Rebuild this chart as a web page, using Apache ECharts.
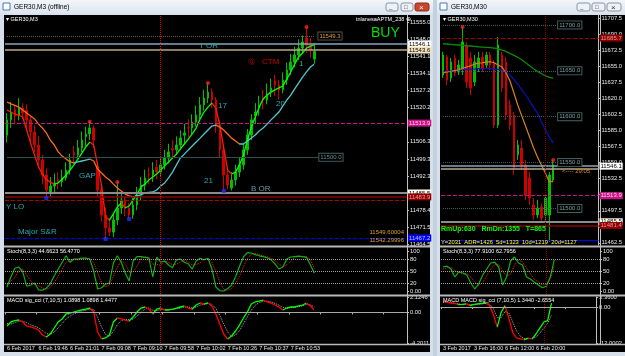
<!DOCTYPE html>
<html><head><meta charset="utf-8">
<script src="https://cdn.jsdelivr.net/npm/echarts@6/dist/echarts.min.js"></script>
<style>html,body{margin:0;padding:0;background:#d6dfea;}#c{width:625px;height:356px;}</style>
</head><body><div id="c"></div>
<script>
// ---------------- DATA ----------------
// Left chart GER30,M3
const leftOpen  = [11509.0,11515.2,11519.5,11516.8,11520.0,11519.0,11515.2,11510.3,11505.0,11498.9,11492.8,11485.5,11488.3,11491.0,11490.0,11491.6,11494.8,11502.0,11500.9,11503.8,11508.5,11509.5,11511.9,11496.0,11486.7,11476.5,11471.3,11469.6,11474.5,11479.4,11482.6,11479.4,11476.5,11480.6,11484.7,11488.7,11493.0,11492.8,11496.0,11494.0,11496.9,11499.7,11503.5,11503.0,11505.0,11509.0,11512.0,11511.9,11514.3,11517.2,11521.3,11524.1,11526.5,11523.3,11513.1,11503.0,11492.8,11487.5,11490.8,11494.0,11496.9,11503.0,11509.1,11517.0,11520.0,11524.0,11523.3,11527.0,11531.0,11529.4,11527.4,11531.4,11535.5,11538.7,11541.6,11544.4,11548.5,11545.6,11540.0];
const leftClose = [11515.2,11518.4,11516.8,11520.0,11518.0,11515.2,11510.3,11505.0,11498.9,11492.8,11486.7,11488.3,11489.1,11490.0,11491.6,11494.8,11498.9,11500.9,11503.8,11507.0,11509.5,11511.9,11507.0,11486.7,11476.5,11471.3,11469.6,11474.5,11479.4,11482.6,11479.4,11476.5,11480.6,11484.7,11488.7,11491.6,11492.8,11494.8,11494.0,11496.9,11499.7,11502.2,11503.0,11505.0,11507.8,11509.9,11511.9,11514.3,11517.2,11521.3,11524.1,11526.5,11523.3,11513.1,11503.0,11492.8,11488.7,11490.8,11494.0,11496.9,11503.0,11509.1,11515.2,11518.4,11521.3,11523.3,11525.3,11528.2,11529.4,11527.4,11531.4,11535.5,11538.7,11541.6,11544.4,11546.9,11545.6,11543.6,11543.0];
const leftHigh  = [11518.0,11522.5,11521.0,11524.0,11522.0,11521.5,11517.0,11513.0,11508.5,11501.0,11495.5,11492.0,11493.5,11494.0,11495.0,11498.0,11501.5,11504.5,11507.0,11510.5,11512.5,11514.5,11513.0,11498.0,11489.0,11479.5,11475.0,11477.0,11490.0,11485.5,11484.0,11481.5,11483.5,11488.0,11492.0,11495.0,11496.0,11498.0,11499.0,11500.5,11503.0,11505.5,11507.0,11508.5,11511.0,11513.5,11515.5,11517.5,11521.0,11524.5,11527.5,11530.2,11528.0,11524.5,11515.0,11505.0,11495.0,11494.0,11497.0,11500.0,11505.5,11511.5,11517.5,11522.0,11525.0,11527.5,11530.0,11532.0,11533.5,11531.5,11534.5,11538.5,11542.0,11545.0,11548.0,11549.5,11553.0,11548.5,11546.5];
const leftLow   = [11506.0,11512.0,11513.5,11515.0,11515.5,11512.0,11506.0,11502.0,11496.0,11489.0,11483.5,11484.0,11485.5,11487.0,11488.0,11490.5,11493.0,11497.0,11499.5,11502.0,11504.5,11507.0,11504.0,11484.0,11474.0,11466.8,11468.0,11467.5,11472.5,11477.0,11476.0,11474.9,11475.0,11478.5,11482.5,11486.5,11489.0,11490.0,11491.0,11492.0,11495.0,11497.5,11500.0,11501.0,11503.0,11505.5,11508.0,11509.5,11512.5,11515.5,11519.0,11522.0,11520.0,11510.0,11500.0,11486.3,11487.0,11486.5,11488.5,11492.0,11495.0,11501.0,11507.0,11513.5,11517.0,11519.5,11521.5,11524.5,11525.0,11523.5,11526.0,11529.5,11533.5,11536.5,11539.5,11542.0,11542.5,11540.5,11538.0];
const leftFastMA = [11519.2,11518.4,11517.6,11517.2,11516.4,11511.1,11505.8,11500.9,11496.1,11493.2,11490.8,11490.0,11489.1,11489.6,11491.2,11492.8,11494.8,11496.9,11499.3,11501.7,11504.2,11506.2,11505.0,11496.9,11488.7,11475.7,11474.5,11477.0,11479.8,11481.4,11479.4,11480.2,11482.6,11485.1,11487.9,11489.1,11490.8,11492.0,11493.2,11494.8,11496.5,11498.1,11499.7,11501.3,11503.4,11505.4,11507.4,11509.5,11511.9,11515.6,11518.4,11520.4,11522.1,11520.0,11513.1,11503.8,11494.8,11493.2,11494.0,11496.9,11500.9,11507.0,11512.3,11516.4,11520.4,11523.7,11525.3,11526.5,11527.4,11528.2,11529.0,11531.8,11534.7,11537.9,11540.8,11542.4,11544.4,11545.2,11545.7];
const leftSlowMA = [11522.5,11521.7,11521.1,11520.4,11519.2,11518.0,11516.8,11515.6,11513.5,11511.9,11509.9,11507.0,11505.0,11502.2,11500.5,11499.3,11498.1,11497.7,11498.1,11498.5,11498.9,11499.3,11498.5,11495.2,11493.6,11492.0,11490.8,11489.1,11487.5,11486.3,11485.1,11484.3,11483.9,11484.3,11484.7,11485.5,11485.7,11485.9,11486.7,11488.3,11489.6,11491.6,11494.0,11496.9,11499.7,11501.3,11503.0,11504.6,11506.2,11507.8,11509.5,11511.1,11512.7,11513.1,11512.3,11511.1,11509.5,11507.8,11506.6,11505.4,11505.4,11506.6,11507.8,11509.1,11510.7,11511.9,11513.5,11515.2,11516.8,11518.4,11520.9,11523.3,11525.3,11527.8,11530.2,11532.6,11534.7,11536.7,11537.9];
const leftSwingHighIdx = [21,28,51,76];
const leftSwingLowIdx = [10,25,31,55];
const leftStochMain = [10,35,57,60,48,12,15,20,3,2,7,18,38,55,72,88,72,80,80,82,82,80,50,5,8,17,20,70,88,72,45,25,75,86,86,84,82,35,85,72,75,65,58,78,80,72,68,55,75,82,78,82,55,10,1,0,6,15,35,62,85,96,95,91,88,86,83,78,68,55,60,80,85,86,87,86,84,65,44.7];
const leftStochSignal = [15,25,34,51,55,40,25,16,13,8,4,9,21,37,55,72,77,80,77,81,81,81,71,45,21,10,15,36,59,77,68,47,48,62,82,85,84,67,67,64,77,71,66,67,72,77,73,65,66,71,78,81,72,49,22,4,2,7,19,37,61,81,92,94,91,88,86,82,76,67,61,65,75,84,86,86,86,78,56.5];
const leftMacdMain = [-1.86,-1.31,-1.11,-1.04,-1.31,-1.86,-2.0,-2.14,-2.41,-3.10,-3.38,-2.96,-2.14,-1.31,-0.90,-0.21,-0.08,0.06,0.20,0.34,0.47,0.61,0.06,-2.69,-3.65,-3.51,-3.10,-1.31,-0.76,-0.90,-1.04,-1.18,-0.63,0.06,0.61,0.75,0.47,-0.21,0.47,0.61,0.34,0.34,0.47,0.61,0.75,0.89,0.61,0.47,1.02,1.30,1.16,1.30,0.89,-0.21,-1.59,-2.96,-3.65,-3.24,-2.55,-1.73,-0.76,0.06,1.16,1.44,1.57,1.71,1.44,1.30,1.02,0.75,0.34,0.61,0.75,0.75,0.89,1.02,1.30,0.89,0.34];
const leftMacdSignal = [-1.5,-1.6,-1.4,-1.2,-1.2,-1.4,-1.7,-1.9,-2.1,-2.5,-2.9,-3.0,-2.7,-2.1,-1.5,-0.9,-0.5,-0.2,0.0,0.2,0.3,0.45,0.4,-0.7,-2.0,-3.0,-3.3,-2.6,-1.7,-1.1,-0.95,-1.0,-0.9,-0.5,0.0,0.45,0.6,0.3,0.25,0.4,0.45,0.4,0.4,0.5,0.6,0.75,0.75,0.6,0.75,1.0,1.15,1.25,1.1,0.55,-0.4,-1.6,-2.7,-3.3,-3.1,-2.5,-1.6,-0.6,0.3,1.0,1.35,1.55,1.55,1.45,1.25,1.0,0.7,0.6,0.65,0.7,0.8,0.9,1.1,1.05,0.75];
const leftTimeLabels = ['6 Feb 2017','6 Feb 19:46','6 Feb 21:01','7 Feb 09:08','7 Feb 09:10','7 Feb 09:58','7 Feb 10:02','7 Feb 10:26','7 Feb 10:37','7 Feb 10:53'];
const leftPriceTicks = [11555.0,11548.0,11541.1,11534.1,11527.2,11520.2,11513.2,11506.3,11499.3,11492.3,11485.4,11478.4,11471.5,11464.5];
const leftMacdTicks = [2.1246,0,-4.2011];

// Right chart GER30,M30
const rightOpen  = [11645.4,11665.0,11642.1,11663.9,11648.7,11653.0,11678.1,11663.9,11637.8,11653.0,11665.0,11656.3,11667.2,11658.5,11590.9,11667.2,11659.6,11612.7,11601.8,11558.3,11565.9,11547.4,11533.2,11503.8,11492.9,11501.6,11492.9,11492.9,11531.0];
const rightClose = [11667.2,11640.0,11659.6,11647.6,11656.3,11681.4,11637.8,11631.3,11659.6,11663.9,11653.0,11667.2,11656.3,11590.9,11678.1,11631.3,11601.8,11590.9,11544.1,11569.2,11547.4,11514.7,11511.4,11492.9,11500.5,11489.6,11511.4,11536.5,11547.4];
const rightHigh  = [11670.5,11667.2,11663.9,11667.2,11661.7,11697.7,11681.4,11670.5,11667.2,11670.5,11670.5,11670.5,11670.5,11661.7,11686.8,11670.5,11665.0,11618.2,11605.1,11574.6,11574.6,11552.8,11539.7,11511.4,11509.3,11505.4,11514.7,11539.7,11552.8];
const rightLow   = [11642.1,11634.5,11637.8,11644.3,11645.4,11645.4,11631.3,11623.6,11633.4,11648.7,11648.7,11653.0,11650.8,11587.7,11587.7,11626.9,11596.4,11585.5,11536.5,11552.8,11541.9,11509.3,11503.8,11487.5,11489.6,11485.3,11487.5,11463.5,11528.9];
const rightGreenMA  = [11679.5,11679.2,11678.9,11678.4,11678.1,11677.8,11677.3,11677.0,11676.7,11676.2,11675.9,11675.6,11675.2,11674.8,11674.1,11672.6,11671.2,11669.0,11666.9,11664.7,11662.1,11658.8,11655.5,11652.3,11649.4,11646.8,11644.6,11643.2,11641.8];
const rightBlueMA   = [11649.0,11649.8,11650.1,11650.5,11651.0,11651.2,11651.6,11651.7,11651.9,11652.3,11652.5,11652.7,11652.3,11651.9,11651.6,11651.2,11649.0,11645.4,11640.7,11635.3,11629.8,11623.6,11617.1,11610.5,11603.7,11594.5,11585.8,11578.2,11571.0];
const rightOrangeMA = [11647.6,11648.7,11649.4,11650.1,11651.2,11652.7,11654.1,11655.5,11657.1,11658.3,11658.8,11659.4,11659.9,11658.8,11656.3,11654.1,11647.9,11639.2,11626.1,11612.7,11601.1,11589.5,11577.9,11566.2,11556.1,11547.4,11538.7,11529.2,11529.2];
const rightSwingHighIdx = [5,28];
const rightStochMain   = [60,62,55,35,48,45,40,20,5,18,40,55,70,72,60,15,35,75,85,70,65,35,30,22,15,8,12,35,77.9];
const rightStochSignal = [55,58,59,51,46,43,44,35,22,14,21,38,55,66,67,49,37,42,65,77,73,57,43,29,22,15,16,30,62.8];
const rightMacdMain   = [2.0,1.6,1.3,1.2,0.8,0.9,1.1,0.5,0.9,1.1,1.2,1.3,0.6,-2.5,-6.7,-1.8,0.5,-3.8,-8.5,-10.4,-10.6,-10.9,-10.4,-10.6,-9.0,-7.0,-5.0,-4.5,1.344];
const rightMacdSignal = [1.5,1.7,1.5,1.3,1.1,0.9,1.0,0.8,0.8,0.9,1.0,1.2,1.0,-0.5,-3.5,-3.5,-1.5,-2.0,-5.0,-8.0,-9.8,-10.5,-10.6,-10.5,-10.0,-8.8,-7.0,-5.5,-2.655];
const rightTimeLabels = ['3 Feb 2017','3 Feb 16:00','6 Feb 12:00','6 Feb 20:00'];
const rightPriceTicks = [11707.5,11690.0,11672.5,11655.0,11637.5,11620.0,11602.5,11585.0,11567.5,11550.0,11532.5,11515.0,11497.5,11480.0,11462.5];
const rightMacdTicks = [3.36,0,-12.0002];
const rightRoundLevels = [11700.0,11650.0,11600.0,11550.0,11500.0];

// Shared levels
const levelTOR = [11546.1];
const levelBeige = [11543.6];
const levelMagenta = [11513.9];
const levelBOR = [11485.5];
const levelRedSolid = [11483.9];
const levelYLO = [11482.6];
const levelMajorSR = [11467.2];
const levelRightRed = [11685.7];
const leftTargets = [11549.3, 11542.3];
const leftRound = [11500.0];
const stochLevels = [20,50,80];
const stochTicks = [0,20,50,80,100];

// ---------------- CHART ----------------
const FONT = 'Liberation Sans';
const chart = echarts.init(document.getElementById('c'), null, {width:625, height:356});
const leftCats = Array.from({length:102}, (_, i) => String(i));
const rightCats = Array.from({length:40}, (_, i) => String(i));
const leftOHLC = leftOpen.map((o, i) => [o, leftClose[i], leftLow[i], leftHigh[i]]);
const rightOHLC = rightOpen.map((o, i) => [o, rightClose[i], rightLow[i], rightHigh[i]]);

function slopePieces(data, up, down) {
  const pieces = [];
  for (let i = 0; i < data.length - 1; i++) {
    const c = data[i + 1] >= data[i] ? up : down;
    const last = pieces[pieces.length - 1];
    if (last && last.color === c) last.lt = i + 1;
    else pieces.push({gte: i, lt: i + 1, color: c});
  }
  const last = pieces[pieces.length - 1];
  last.lte = last.lt; delete last.lt;
  return pieces;
}

function box(text, bg, fg, border) {
  return {show: true, position: 'end', formatter: text, backgroundColor: bg, color: fg,
    fontSize: 6, fontFamily: FONT, padding: [1, 1, 0, 1], distance: 1,
    borderColor: border || bg, borderWidth: border ? 1 : 0};
}
const noLabel = {show: false};
function hline(v, color, width, type, label) {
  return {yAxis: v, lineStyle: {color, width, type}, label: label || noLabel};
}
function seg(x0, x1, v, color, type, label, opacity) {
  const ls = {color, width: 1, type, opacity: opacity == null ? 1 : opacity};
  const lb = label || noLabel;
  return [{coord: [x0, v], value: v, lineStyle: ls, label: lb}, {coord: [x1, v], value: v, lineStyle: ls, label: lb}];
}

function xAxisDef(gi, cats, labels) {
  return {type: 'category', gridIndex: gi, data: cats, boundaryGap: true,
    axisLine: {show: !!labels, lineStyle: {color: '#b0b0b0'}},
    axisTick: {show: !!labels, interval: 7, length: 2, lineStyle: {color: '#b0b0b0'}},
    axisLabel: labels ? {show: true, interval: 7, color: '#e8e8e8', fontSize: 5.5, fontFamily: FONT, margin: 2, align: 'left',
      formatter: (v, idx) => labels[idx / 8] || ''} : {show: false},
    splitLine: {show: false}};
}
function yAxisDef(gi, min, max, ticks, fmt) {
  return {type: 'value', gridIndex: gi, position: 'right', min, max, scale: true,
    axisLine: {show: true, lineStyle: {color: '#c0c0c0'}},
    axisTick: {show: true, length: 2, customValues: ticks, lineStyle: {color: '#c0c0c0'}},
    axisLabel: {show: true, customValues: ticks, color: '#e8e8e8', fontSize: 5.8, fontFamily: FONT, margin: 3, formatter: fmt},
    splitLine: {show: false}};
}
const f1 = v => v.toFixed(1);
const fStoch = v => v === 0 ? '0.00' : String(v);
const fMacd = v => v === 0 ? '0.00' : v.toFixed(4);

const candleStyle = {color: '#00c000', color0: '#d00000', borderColor: '#00c000', borderColor0: '#d00000', borderWidth: 1};

function T(x, y, text, fill, size, extra) {
  return {type: 'text', x, y, z: 100, silent: true,
    style: Object.assign({text, fill, fontSize: size || 6, fontFamily: FONT, align: 'left', textAlign: 'left',
      verticalAlign: 'middle', textVerticalAlign: 'middle'}, extra || {})};
}
function R(x, y, w, h, fill, stroke, z, r) {
  return {type: 'rect', z: z == null ? -10 : z, silent: true, shape: {x, y, width: w, height: h, r: r || 0},
    style: {fill, stroke: stroke || null, lineWidth: stroke ? 1 : 0}};
}
function L(x1, y1, x2, y2, stroke, w, dash, z) {
  return {type: 'line', z: z == null ? -5 : z, silent: true, shape: {x1, y1, x2, y2},
    style: {stroke, lineWidth: w || 1, lineDash: dash || null}};
}
const titleGrad = {type: 'linear', x: 0, y: 0, x2: 0, y2: 1, colorStops: [{offset: 0, color: '#f3f6fa'}, {offset: 1, color: '#dbe4ee'}]};

const graphics = [
  // window frames / title bars
  R(0, 0, 433, 14, titleGrad),
  R(437, 0, 188, 14, titleGrad),
  R(433, 0, 4, 356, '#c3d0df'),
  R(3, 3, 7, 7, '#ffffff', '#4a78b0', -9),
  R(440, 3, 7, 7, '#ffffff', '#4a78b0', -9),
  T(14, 7.5, 'GER30,M3 (offline)', '#000000', 6.5),
  T(451, 7.5, 'GER30,M30', '#000000', 6.5),
  R(386, 3, 12, 8, '#eef2f7', '#8696aa', -9, 2),
  R(401, 3, 12, 8, '#eef2f7', '#8696aa', -9, 2),
  R(415, 3, 14, 8, '#c9462c', '#8a2a18', -9, 2),
  R(577, 3, 13, 8, '#eef2f7', '#8696aa', -9, 2),
  R(592, 3, 13, 8, '#eef2f7', '#8696aa', -9, 2),
  R(607, 3, 14, 8, '#eef2f7', '#8696aa', -9, 2),
  T(389, 7.5, '_', '#333', 6), T(404, 7.5, '\u25A1', '#333', 6), T(419, 7.5, '\u00D7', '#ffffff', 8),
  T(580, 7.5, '_', '#333', 6), T(595, 7.5, '\u25A1', '#333', 6), T(611, 7.5, '\u00D7', '#333', 8),
  // black chart areas
  R(4, 15, 426, 337, '#000000'),
  R(440, 15, 185, 337, '#000000'),
  // panel separators
  L(4, 246.5, 430, 246.5, '#b8b8b8', 2, null, 5),
  L(4, 295.5, 430, 295.5, '#b8b8b8', 2, null, 5),
  L(4, 344.5, 430, 344.5, '#b8b8b8', 1.5, null, 5),
  L(440, 246.5, 625, 246.5, '#b8b8b8', 2, null, 5),
  L(440, 295.5, 625, 295.5, '#b8b8b8', 2, null, 5),
  L(440, 344.5, 625, 344.5, '#b8b8b8', 1.5, null, 5),
  L(407.5, 15, 407.5, 345, '#c0c0c0', 1, null, 5),
  L(600.5, 15, 600.5, 345, '#c0c0c0', 1, null, 5),
  // in-chart labels
  T(6, 19, '\u25BE GER30,M3', '#ffffff', 5.5),
  T(443, 19, '\u25BE GER30,M30', '#ffffff', 5.5),
  T(356, 19, 'tnlanesaAPTM_238 \u2295', '#ffffff', 5.5),
  T(371, 33, 'BUY', '#00e000', 14),
  T(199, 46, 'T OR', '#2aa6b0', 8),
  T(248, 62, '\u24C6', '#d00000', 7),
  T(262, 62, 'CTM', '#d00000', 8),
  T(299, 64, '1', '#2aa6b0', 8),
  T(218, 106, '17', '#2aa6b0', 8),
  T(276, 104, '20', '#2aa6b0', 8),
  T(79, 176, 'GAP', '#2aa6b0', 8),
  T(204, 181, '21', '#2aa6b0', 8),
  T(251, 189, 'B OR', '#6a9aa8', 8),
  T(6, 207, 'Y LO', '#2aa6b0', 8),
  T(18, 232, 'Major S&R', '#2aa6b0', 8),
  T(404, 232, '11549.60004', '#d8a030', 6, {align: 'right', textAlign: 'right'}),
  T(404, 240, '11542.29996', '#d8a030', 6, {align: 'right', textAlign: 'right'}),
  T(7, 251.5, 'Stoch(8,3,3) 44.6623 56.4770', '#ffffff', 5.5),
  T(7, 300.5, 'MACD sig_cci (7,10,5) 1.0898 1.0898 1.4477', '#ffffff', 5.5),
  T(443, 251.5, 'Stoch(8,3,3) 77.9100 62.7956', '#ffffff', 5.5),
  T(443, 300.5, 'MACD MACD sig_cci (7,10,5) 1.3440 -2.6554', '#ffffff', 5.5),
  T(562, 171, '<---- 29:05', '#e08a20', 6),
  T(441, 229, 'RmUp:630   RmDn:1355   T=865', '#00ff00', 7, {fontWeight: 'bold'}),
  T(441, 242, 'Y=2031  ADR=1426  5d=1323  10d=1219  20d=1127', '#ffff00', 5.8)
];

const leftLevelLines = [
  hline(levelTOR[0], '#8aa4bd', 1.5, 'solid', box(levelTOR[0].toFixed(1), '#ffffff', '#000000')),
  hline(levelBeige[0], '#b8a888', 1.5, 'solid', box(levelBeige[0].toFixed(1), '#f5e2bd', '#000000')),
  hline(levelMagenta[0], '#c71585', 1, 'dashed', box(levelMagenta[0].toFixed(1), '#c71585', '#ffd0f0')),
  hline(levelBOR[0], '#8c8c8c', 2, 'solid', box(levelBOR[0].toFixed(1), '#fffaf0', '#000000')),
  hline(levelRedSolid[0], '#8b0000', 1.5, 'solid', box(levelRedSolid[0].toFixed(1), '#8b0000', '#ff9090')),
  hline(levelYLO[0], '#b00000', 1, 'dashed'),
  hline(levelMajorSR[0], '#0000ff', 1, 'dashed', box(levelMajorSR[0].toFixed(1), '#0000ff', '#c0c0ff')),
  seg(0, 78, leftTargets[0], '#606060', 'dotted', Object.assign(box(leftTargets[0].toFixed(1), '#000000', '#e0a040', '#505050'), {distance: 4})),
  seg(77, 78, leftTargets[1], '#000000', 'solid', {show: true, position: 'end', formatter: leftTargets[1].toFixed(1), color: '#e0a040', fontSize: 6, fontFamily: FONT, distance: 5}, 0),
  seg(0, 79, leftRound[0], '#2f4f4f', 'solid', box(leftRound[0].toFixed(1), '#000000', '#6f8f8f', '#3f5f5f'))
];
const rightLevelLines = [
  hline(levelRightRed[0], '#a00000', 1, 'dashed', box(levelRightRed[0].toFixed(1), '#8b0000', '#ff9090')),
  hline(levelTOR[0], '#8aa4bd', 1.5, 'solid', box(levelTOR[0].toFixed(1), '#ffffff', '#000000')),
  hline(levelBeige[0], '#b8a888', 1.5, 'solid'),
  hline(levelMagenta[0], '#c71585', 1, 'dashed', box(levelMagenta[0].toFixed(1), '#c71585', '#ffd0f0')),
  hline(levelBOR[0], '#8c8c8c', 2, 'solid', box(levelBOR[0].toFixed(1), '#fffaf0', '#000000')),
  hline(levelRedSolid[0] - 2.5, '#8b0000', 1.5, 'solid', box((levelRedSolid[0] - 2.5).toFixed(1), '#8b0000', '#ff9090')),
  hline(levelMajorSR[0] - 1.5, '#0000ff', 1, 'solid')
].concat(rightRoundLevels.map(v => seg(0, 29, v, '#3f5f5f', 'dotted', box(v.toFixed(1), '#000000', '#7f9f9f', '#3f5f5f'))));

const option = {
  animation: false,
  backgroundColor: '#d6dfea',
  textStyle: {fontFamily: FONT},
  grid: [
    {left: 5, top: 15, width: 402, height: 230},
    {left: 5, top: 248, width: 402, height: 46},
    {left: 5, top: 297, width: 402, height: 46},
    {left: 441, top: 15, width: 159, height: 230},
    {left: 441, top: 248, width: 159, height: 46},
    {left: 441, top: 297, width: 159, height: 46}
  ],
  xAxis: [
    xAxisDef(0, leftCats), xAxisDef(1, leftCats), xAxisDef(2, leftCats, leftTimeLabels),
    xAxisDef(3, rightCats), xAxisDef(4, rightCats), xAxisDef(5, rightCats, rightTimeLabels)
  ],
  yAxis: [
    yAxisDef(0, 11464.35, 11557.85, leftPriceTicks, f1),
    yAxisDef(1, -7.5, 107.5, stochTicks, fStoch),
    yAxisDef(2, -4.2011, 2.1246, leftMacdTicks, fMacd),
    yAxisDef(3, 11460.2, 11710.8, rightPriceTicks, f1),
    yAxisDef(4, -7.5, 107.5, stochTicks, fStoch),
    yAxisDef(5, -12.0002, 3.36, rightMacdTicks, fMacd)
  ],
  visualMap: [
    {type: 'piecewise', show: false, seriesIndex: 1, dimension: 0, pieces: slopePieces(leftFastMA, '#00ff00', '#ff1a00')},
    {type: 'piecewise', show: false, seriesIndex: 2, dimension: 0, pieces: slopePieces(leftSlowMA, '#4cc8d0', '#ff6a10')},
    {type: 'piecewise', show: false, seriesIndex: 7, dimension: 0, pieces: slopePieces(leftMacdMain, '#00ff00', '#ff0000')},
    {type: 'piecewise', show: false, seriesIndex: 16, dimension: 0, pieces: slopePieces(rightMacdMain, '#00ff00', '#ff0000')}
  ],
  graphic: {elements: graphics},
  series: [
    {type: 'candlestick', xAxisIndex: 0, yAxisIndex: 0, data: leftOHLC, barWidth: 2, itemStyle: candleStyle, z: 3,
      markLine: {silent: true, symbol: ['none', 'none'], animation: false, data: leftLevelLines.concat([{xAxis: 39, lineStyle: {color: '#ff0000', type: 'dotted', width: 1}, label: noLabel}])}},
    {type: 'line', xAxisIndex: 0, yAxisIndex: 0, data: leftFastMA, showSymbol: false, lineStyle: {width: 1.3}, z: 4},
    {type: 'line', xAxisIndex: 0, yAxisIndex: 0, data: leftSlowMA, showSymbol: false, lineStyle: {width: 1.3}, z: 4},
    {type: 'scatter', xAxisIndex: 0, yAxisIndex: 0, symbolSize: 4, itemStyle: {color: '#ff2020'}, z: 5,
      data: leftSwingHighIdx.map(i => [i, leftHigh[i]])},
    {type: 'scatter', xAxisIndex: 0, yAxisIndex: 0, symbolSize: 4, symbol: 'rect', itemStyle: {color: '#2030ff'}, z: 5,
      data: leftSwingLowIdx.map(i => [i, leftLow[i]])},
    {type: 'line', xAxisIndex: 1, yAxisIndex: 1, data: leftStochMain, showSymbol: false, lineStyle: {color: '#10b010', width: 1.2}, z: 4,
      markLine: {silent: true, symbol: ['none', 'none'], animation: false, label: {show: false},
        data: stochLevels.map(v => ({yAxis: v, lineStyle: {color: '#a0a0a0', type: 'dotted', width: 1}})).concat([{xAxis: 39, lineStyle: {color: '#ff0000', type: 'dotted', width: 1}}])}},
    {type: 'line', xAxisIndex: 1, yAxisIndex: 1, data: leftStochSignal, showSymbol: false, lineStyle: {color: '#ff2020', width: 1, type: 'dotted'}, z: 3},
    {type: 'line', xAxisIndex: 2, yAxisIndex: 2, data: leftMacdMain, showSymbol: false, lineStyle: {width: 1.3}, z: 4,
      markLine: {silent: true, symbol: ['none', 'none'], animation: false, label: {show: false},
        data: [{yAxis: 0, lineStyle: {color: '#a8a8a8', type: 'solid', width: 1}}, {xAxis: 39, lineStyle: {color: '#ff0000', type: 'dotted', width: 1}}]}},
    {type: 'line', xAxisIndex: 2, yAxisIndex: 2, data: leftMacdSignal, showSymbol: false, lineStyle: {color: '#b0b0b0', width: 1, type: 'dotted'}, z: 3},
    {type: 'candlestick', xAxisIndex: 3, yAxisIndex: 3, data: rightOHLC, barWidth: 2, itemStyle: candleStyle, z: 3,
      markLine: {silent: true, symbol: ['none', 'none'], animation: false, data: rightLevelLines.concat([{xAxis: 26, lineStyle: {color: '#900000', type: 'dotted', width: 1}, label: noLabel}])}},
    {type: 'line', xAxisIndex: 3, yAxisIndex: 3, data: rightGreenMA, showSymbol: false, lineStyle: {color: '#0a8a0a', width: 1.3}, z: 4},
    {type: 'line', xAxisIndex: 3, yAxisIndex: 3, data: rightBlueMA, showSymbol: false, lineStyle: {color: '#1010c0', width: 1.2}, z: 4},
    {type: 'line', xAxisIndex: 3, yAxisIndex: 3, data: rightOrangeMA, showSymbol: false, lineStyle: {color: '#d8801e', width: 1.2}, z: 4},
    {type: 'scatter', xAxisIndex: 3, yAxisIndex: 3, symbolSize: 4, itemStyle: {color: '#ff2020'}, z: 5,
      data: rightSwingHighIdx.map(i => [i, rightHigh[i]])},
    {type: 'line', xAxisIndex: 4, yAxisIndex: 4, data: rightStochMain, showSymbol: false, lineStyle: {color: '#10b010', width: 1.2}, z: 4,
      markLine: {silent: true, symbol: ['none', 'none'], animation: false, label: {show: false},
        data: stochLevels.map(v => ({yAxis: v, lineStyle: {color: '#a0a0a0', type: 'dotted', width: 1}})).concat([{xAxis: 26, lineStyle: {color: '#900000', type: 'dotted', width: 1}}])}},
    {type: 'line', xAxisIndex: 4, yAxisIndex: 4, data: rightStochSignal, showSymbol: false, lineStyle: {color: '#ff2020', width: 1, type: 'dotted'}, z: 3},
    {type: 'line', xAxisIndex: 5, yAxisIndex: 5, data: rightMacdMain, showSymbol: false, lineStyle: {width: 1.3}, z: 4,
      markLine: {silent: true, symbol: ['none', 'none'], animation: false, label: {show: false},
        data: [{yAxis: 0, lineStyle: {color: '#a8a8a8', type: 'solid', width: 1}}, {xAxis: 26, lineStyle: {color: '#900000', type: 'dotted', width: 1}}]}},
    {type: 'line', xAxisIndex: 5, yAxisIndex: 5, data: rightMacdSignal, showSymbol: false, lineStyle: {color: '#b0b0b0', width: 1, type: 'dotted'}, z: 3}
  ]
};
chart.setOption(option);
</script>
</body></html>
